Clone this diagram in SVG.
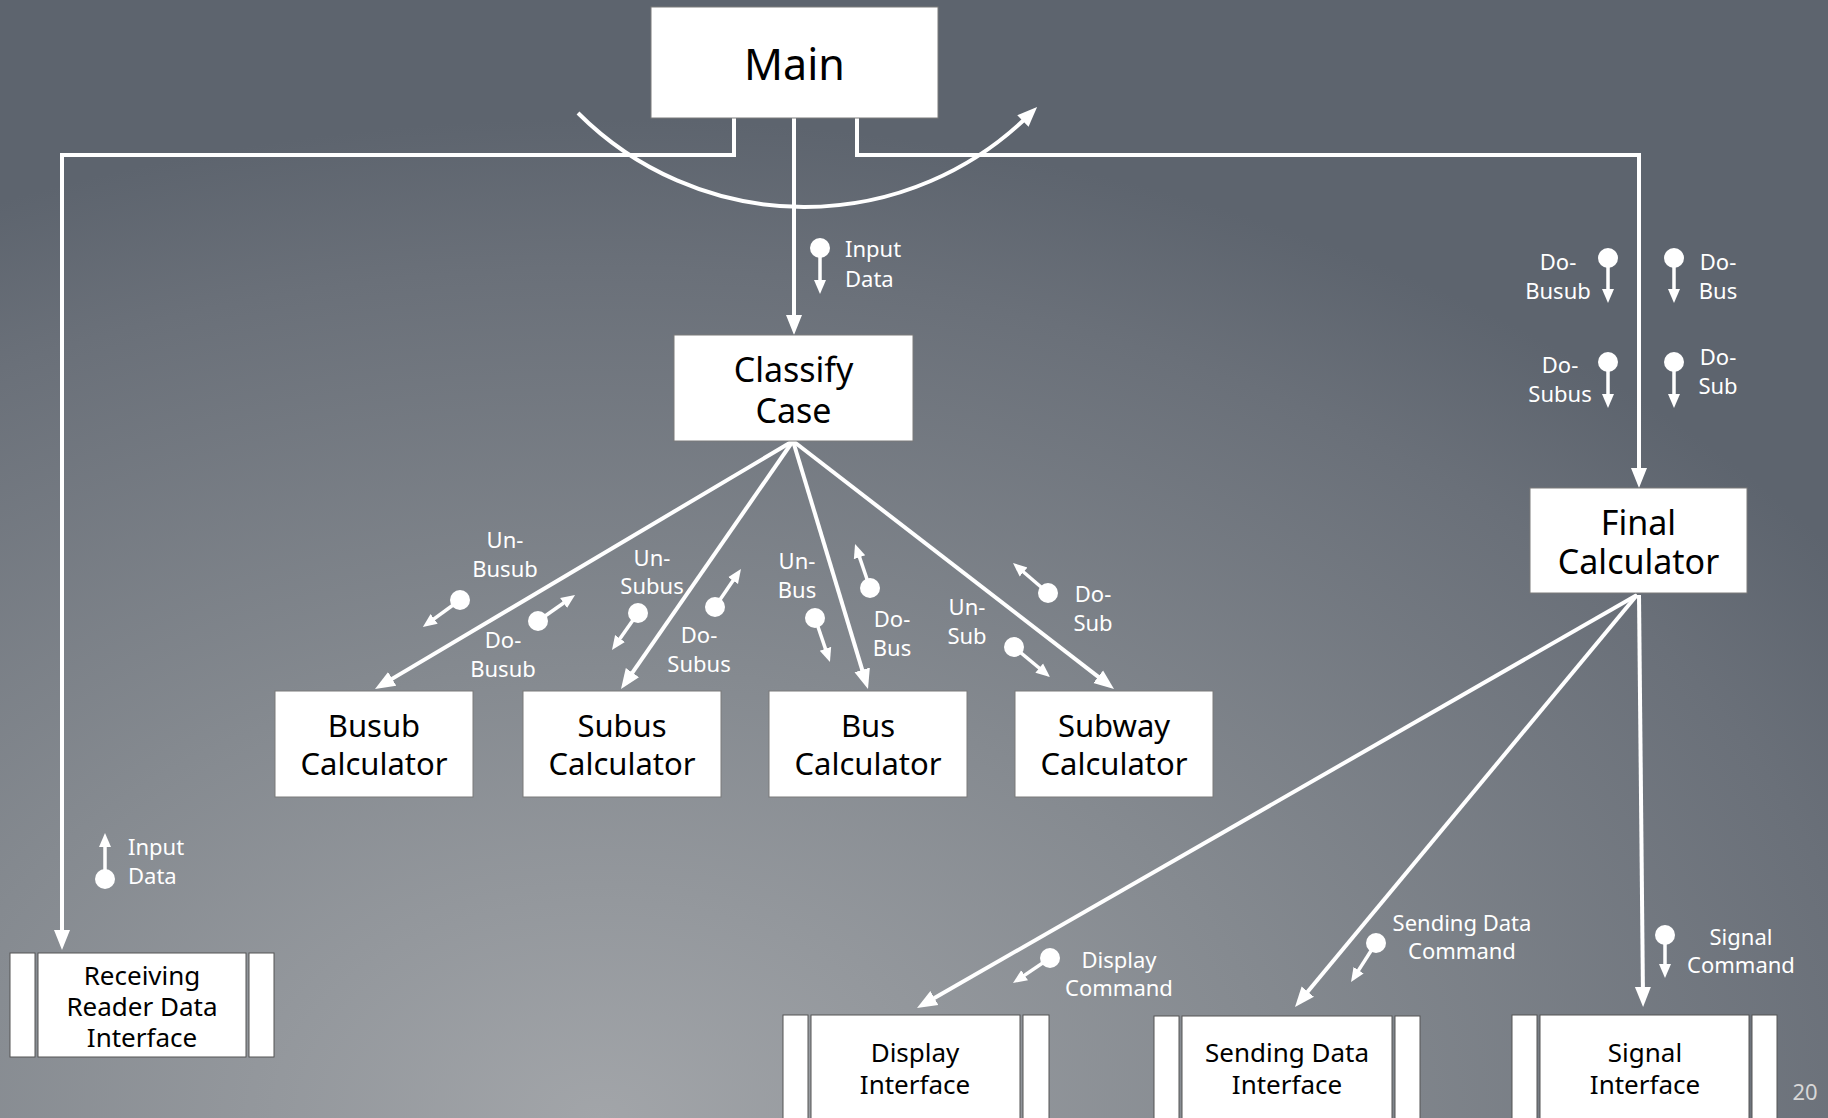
<svg xmlns="http://www.w3.org/2000/svg" width="1828" height="1118" viewBox="0 0 1828 1118">
<defs>
<radialGradient id="bg" gradientUnits="userSpaceOnUse" cx="600" cy="1118" r="1000" gradientTransform="translate(600 1118) scale(1.5 1) translate(-600 -1118)">
<stop offset="0" stop-color="#a2a5a9"/>
<stop offset="0.45" stop-color="#858a90"/>
<stop offset="0.85" stop-color="#6a7079"/>
<stop offset="1" stop-color="#5d646e"/>
</radialGradient>
<marker id="ah" markerUnits="userSpaceOnUse" markerWidth="20" markerHeight="20" viewBox="0 0 20 20" refX="10" refY="10" orient="auto">
<path d="M0,2 L20,10 L0,18 z" fill="#fff"/>
</marker>
<marker id="sa" markerUnits="userSpaceOnUse" markerWidth="14" markerHeight="14" viewBox="0 0 14 14" refX="7" refY="7" orient="auto">
<path d="M0,1 L14,7 L0,13 z" fill="#fff"/>
</marker>
</defs>
<style>
.box{fill:#fff;stroke:#7a7a7a;stroke-width:1}
.cell{fill:#fff;stroke:#555;stroke-width:1}
.t{font-family:"Noto Sans","Open Sans","Liberation Sans",sans-serif;fill:#000;text-anchor:middle}
.lbl{font-family:"Noto Sans","Open Sans","Liberation Sans",sans-serif;fill:#fff;font-size:22px;text-anchor:middle}
.con{fill:none;stroke:#fff;stroke-width:4;marker-end:url(#ah)}
.ico line{stroke:#fff;stroke-width:3.5;marker-end:url(#sa)}
.ico circle{fill:#fff}
</style>
<rect width="1828" height="1118" fill="url(#bg)"/>

<g id="connectors">
<path class="con" d="M734,118 V155 H62 V940"/>
<path class="con" d="M857,118 V155 H1639 V478"/>
<path class="con" d="M794,118 V325"/>
<path class="con" d="M578,113 A320 320 0 0 0 1030,114"/>
<path class="con" d="M793,441 L383.6,683.9"/>
<path class="con" d="M793,441 L626.7,680.8"/>
<path class="con" d="M793,441 L865.1,679.4"/>
<path class="con" d="M793,441 L1106.1,682.9"/>
<path class="con" d="M1637,595 L925.7,1003"/>
<path class="con" d="M1637,595 L1301.4,999.3"/>
<path class="con" d="M1639,595 L1643,997"/>
</g>

<g id="flows">
<g class="ico" id="f-input-main"><circle cx="820" cy="248" r="10"/><line x1="820" y1="248" x2="820" y2="287"/></g>
<text class="lbl" style="text-anchor:start" x="845" y="257">Input</text>
<text class="lbl" style="text-anchor:start" x="845" y="287">Data</text>

<g class="ico" id="f-input-recv"><circle cx="105" cy="879" r="10"/><line x1="105" y1="879" x2="105" y2="840"/></g>
<text class="lbl" style="text-anchor:start" x="128" y="855">Input</text>
<text class="lbl" style="text-anchor:start" x="128" y="884">Data</text>

<g class="ico" id="f-dobusub-final"><circle cx="1608" cy="258" r="10"/><line x1="1608" y1="258" x2="1608" y2="296"/></g>
<text class="lbl" x="1558" y="270">Do-</text>
<text class="lbl" x="1558" y="299">Busub</text>
<g class="ico" id="f-dobus-final"><circle cx="1674" cy="258" r="10"/><line x1="1674" y1="258" x2="1674" y2="296"/></g>
<text class="lbl" x="1718" y="270">Do-</text>
<text class="lbl" x="1718" y="299">Bus</text>
<g class="ico" id="f-dosubus-final"><circle cx="1608" cy="362" r="10"/><line x1="1608" y1="362" x2="1608" y2="401"/></g>
<text class="lbl" x="1560" y="373">Do-</text>
<text class="lbl" x="1560" y="402">Subus</text>
<g class="ico" id="f-dosub-final"><circle cx="1674" cy="362" r="10"/><line x1="1674" y1="362" x2="1674" y2="401"/></g>
<text class="lbl" x="1718" y="365">Do-</text>
<text class="lbl" x="1718" y="394">Sub</text>

<g class="ico" id="f-unbusub"><circle cx="460" cy="600" r="10"/><line x1="460" y1="600" x2="428.5" y2="622.9"/></g>
<text class="lbl" x="505" y="548">Un-</text>
<text class="lbl" x="505" y="577">Busub</text>
<g class="ico" id="f-dobusub"><circle cx="538" cy="621" r="10"/><line x1="538" y1="621" x2="569.3" y2="599"/></g>
<text class="lbl" x="503" y="648">Do-</text>
<text class="lbl" x="503" y="677">Busub</text>
<g class="ico" id="f-unsubus"><circle cx="638" cy="613" r="10"/><line x1="638" y1="613" x2="616" y2="644.3"/></g>
<text class="lbl" x="652" y="566">Un-</text>
<text class="lbl" x="652" y="594">Subus</text>
<g class="ico" id="f-dosubus"><circle cx="715" cy="607" r="10"/><line x1="715" y1="607" x2="737" y2="574.8"/></g>
<text class="lbl" x="699" y="643">Do-</text>
<text class="lbl" x="699" y="672">Subus</text>
<g class="ico" id="f-unbus"><circle cx="815" cy="618" r="10"/><line x1="815" y1="618" x2="827.7" y2="655.4"/></g>
<text class="lbl" x="797" y="569">Un-</text>
<text class="lbl" x="797" y="598">Bus</text>
<g class="ico" id="f-dobus"><circle cx="870" cy="588" r="10"/><line x1="870" y1="588" x2="857.3" y2="550.6"/></g>
<text class="lbl" x="892" y="627">Do-</text>
<text class="lbl" x="892" y="656">Bus</text>
<g class="ico" id="f-unsub"><circle cx="1014" cy="647" r="10"/><line x1="1014" y1="647" x2="1044.6" y2="672.5"/></g>
<text class="lbl" x="967" y="615">Un-</text>
<text class="lbl" x="967" y="644">Sub</text>
<g class="ico" id="f-dosub"><circle cx="1048" cy="593" r="10"/><line x1="1048" y1="593" x2="1018.3" y2="567.5"/></g>
<text class="lbl" x="1093" y="602">Do-</text>
<text class="lbl" x="1093" y="631">Sub</text>

<g class="ico" id="f-display"><circle cx="1050" cy="958" r="10"/><line x1="1050" y1="958" x2="1018.8" y2="979.1"/></g>
<text class="lbl" x="1119" y="968">Display</text>
<text class="lbl" x="1119" y="996">Command</text>
<g class="ico" id="f-sending"><circle cx="1376" cy="943" r="10"/><line x1="1376" y1="943" x2="1354.8" y2="976.1"/></g>
<text class="lbl" x="1462" y="931">Sending Data</text>
<text class="lbl" x="1462" y="959">Command</text>
<g class="ico" id="f-signal"><circle cx="1665" cy="935" r="10"/><line x1="1665" y1="935" x2="1665" y2="971"/></g>
<text class="lbl" x="1741" y="945">Signal</text>
<text class="lbl" x="1741" y="973">Command</text>
</g>

<g id="main"><rect class="box" x="651" y="7" width="287" height="111"/><text class="t" x="794.5" y="80" font-size="43">Main</text></g>
<g id="classify"><rect class="box" x="674" y="335" width="239" height="106"/><text class="t" x="793.5" y="382" font-size="34">Classify</text><text class="t" x="793.5" y="423" font-size="34">Case</text></g>
<g id="final"><rect class="box" x="1530" y="488" width="217" height="105"/><text class="t" x="1638.5" y="535" font-size="34">Final</text><text class="t" x="1638.5" y="574" font-size="34">Calculator</text></g>
<g id="busub"><rect class="box" x="275" y="691" width="198" height="106"/><text class="t" x="374" y="737" font-size="31">Busub</text><text class="t" x="374" y="775" font-size="31">Calculator</text></g>
<g id="subus"><rect class="box" x="523" y="691" width="198" height="106"/><text class="t" x="622" y="737" font-size="31">Subus</text><text class="t" x="622" y="775" font-size="31">Calculator</text></g>
<g id="bus"><rect class="box" x="769" y="691" width="198" height="106"/><text class="t" x="868" y="737" font-size="31">Bus</text><text class="t" x="868" y="775" font-size="31">Calculator</text></g>
<g id="subway"><rect class="box" x="1015" y="691" width="198" height="106"/><text class="t" x="1114" y="737" font-size="31">Subway</text><text class="t" x="1114" y="775" font-size="31">Calculator</text></g>

<g id="receiving">
<rect class="cell" x="10" y="953" width="25" height="104"/><rect class="cell" x="38" y="953" width="208" height="104"/><rect class="cell" x="249" y="953" width="25" height="104"/>
<text class="t" x="142" y="985" font-size="26">Receiving</text><text class="t" x="142" y="1016" font-size="26">Reader Data</text><text class="t" x="142" y="1047" font-size="26">Interface</text>
</g>
<g id="display">
<rect class="cell" x="783" y="1015" width="25" height="120"/><rect class="cell" x="811" y="1015" width="209" height="120"/><rect class="cell" x="1023" y="1015" width="26" height="120"/>
<text class="t" x="915" y="1062" font-size="26">Display</text><text class="t" x="915" y="1094" font-size="26">Interface</text>
</g>
<g id="sending">
<rect class="cell" x="1154" y="1016" width="25" height="120"/><rect class="cell" x="1182" y="1016" width="210" height="120"/><rect class="cell" x="1395" y="1016" width="25" height="120"/>
<text class="t" x="1287" y="1062" font-size="26">Sending Data</text><text class="t" x="1287" y="1094" font-size="26">Interface</text>
</g>
<g id="signal">
<rect class="cell" x="1512" y="1015" width="25" height="120"/><rect class="cell" x="1540" y="1015" width="209" height="120"/><rect class="cell" x="1752" y="1015" width="25" height="120"/>
<text class="t" x="1645" y="1062" font-size="26">Signal</text><text class="t" x="1645" y="1094" font-size="26">Interface</text>
</g>
<text x="1805" y="1100" font-family="Noto Sans, Liberation Sans, sans-serif" font-size="22" fill="#d8d8d8" text-anchor="middle">20</text>
</svg>
